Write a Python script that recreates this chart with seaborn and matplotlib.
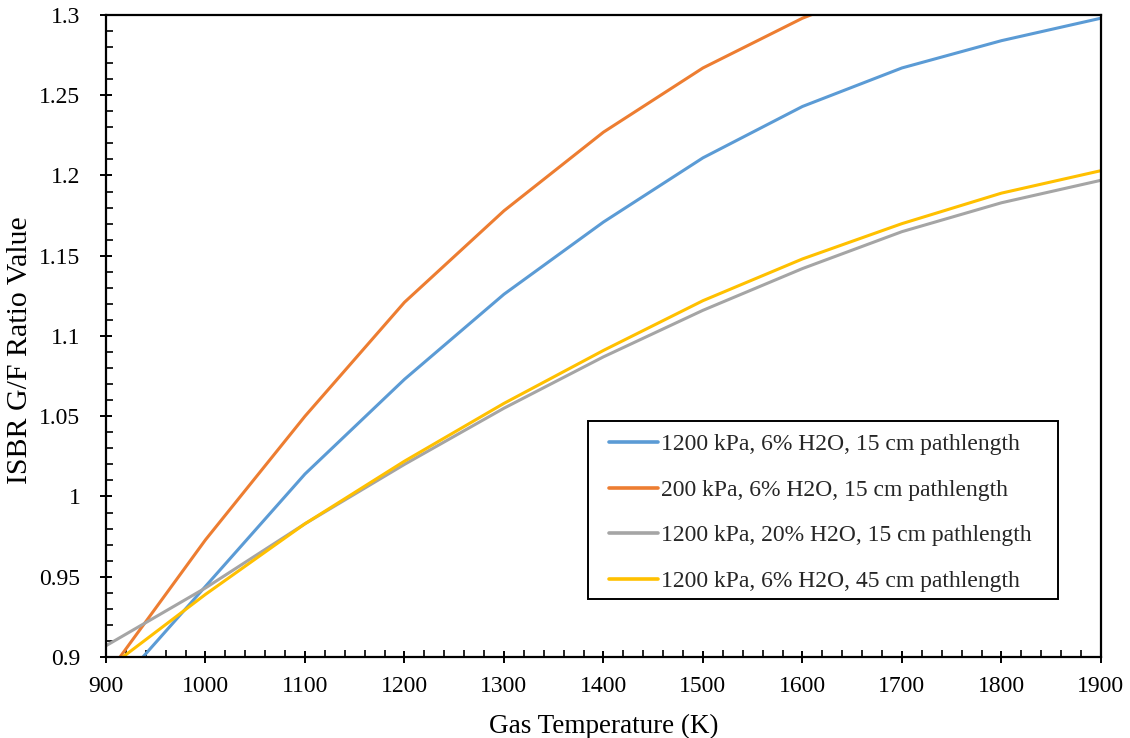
import numpy as np
import pandas as pd
import matplotlib
matplotlib.use("Agg")
import matplotlib.pyplot as plt
from matplotlib.patches import Rectangle
from matplotlib.ticker import MultipleLocator, FuncFormatter
import seaborn as sns

# Gas temperature grid (K)
temperature = [900, 1000, 1100, 1200, 1300, 1400, 1500, 1600, 1700, 1800, 1900]

# ISBR G/F ratio for each case
ratio_1200kpa_6pct_15cm = [0.874, 0.944, 1.014, 1.073, 1.126, 1.171, 1.211, 1.243, 1.267, 1.284, 1.298]
ratio_200kpa_6pct_15cm = [0.888, 0.973, 1.050, 1.121, 1.178, 1.227, 1.267, 1.298, 1.322, 1.340, 1.355]
ratio_1200kpa_20pct_15cm = [0.907, 0.943, 0.983, 1.020, 1.055, 1.087, 1.116, 1.142, 1.165, 1.183, 1.197]
ratio_1200kpa_6pct_45cm = [0.892, 0.939, 0.983, 1.022, 1.058, 1.091, 1.122, 1.148, 1.170, 1.189, 1.203]

case_labels = [
    "1200 kPa, 6% H2O, 15 cm pathlength",
    "200 kPa, 6% H2O, 15 cm pathlength",
    "1200 kPa, 20% H2O, 15 cm pathlength",
    "1200 kPa, 6% H2O, 45 cm pathlength",
]
case_colors = ["#5B9BD5", "#ED7D31", "#A5A5A5", "#FFC000"]

series = [ratio_1200kpa_6pct_15cm, ratio_200kpa_6pct_15cm,
          ratio_1200kpa_20pct_15cm, ratio_1200kpa_6pct_45cm]
df = pd.concat(
    [pd.DataFrame({"T": temperature, "ratio": vals, "case": lab})
     for lab, vals in zip(case_labels, series)],
    ignore_index=True,
)

sns.set_theme(style="white")
plt.rcParams["font.family"] = ["Liberation Serif", "DejaVu Serif"]
plt.rcParams["axes.unicode_minus"] = False

fig = plt.figure(figsize=(11.3, 7.38), dpi=100)
ax = fig.add_axes([0.0938, 0.1098, 0.8805, 0.8699])

sns.lineplot(data=df, x="T", y="ratio", hue="case", hue_order=case_labels,
             palette=case_colors, linewidth=2.2, ax=ax, legend=True)

ax.set_xlim(900, 1900)
ax.set_ylim(0.9, 1.3)
ax.xaxis.set_major_locator(MultipleLocator(100))
ax.xaxis.set_minor_locator(MultipleLocator(20))
ax.yaxis.set_major_locator(MultipleLocator(0.05))
ax.yaxis.set_minor_locator(MultipleLocator(0.01))
ax.yaxis.set_major_formatter(FuncFormatter(lambda v, p: f"{v:g}"))

for s in ax.spines.values():
    s.set_color("black")
    s.set_linewidth(1.6)

ax.tick_params(axis="both", which="major", direction="inout", length=9, width=1.4,
               colors="black", labelsize=17, bottom=True, left=True)
ax.tick_params(axis="both", which="minor", direction="in", length=5, width=1.2,
               colors="black", bottom=True, left=True)
ax.tick_params(axis="y", which="major", pad=14)
ax.tick_params(axis="x", which="major", pad=9)

ax.set_xlabel("Gas Temperature (K)", fontsize=19.5, color="black", labelpad=12)
ax.set_ylabel("ISBR G/F Ratio Value", fontsize=21.5, color="black", labelpad=4)
ax.yaxis.set_label_coords(-0.073, 0.478)

# legend entries without their own frame; a box with wider side margins is drawn below
leg = ax.legend(loc="upper left", bbox_to_anchor=(0.493, 0.368), fontsize=17,
                frameon=False, handlelength=2.05, handletextpad=0.15,
                labelspacing=1.02, borderpad=0.55, borderaxespad=0)
leg.set_zorder(6)
for h in leg.get_lines():
    h.set_linewidth(2.6)

fig.canvas.draw()
bb = leg.get_window_extent().transformed(ax.transAxes.inverted())
px_x = 1.0 / (0.8805 * 1130)
px_y = 1.0 / (0.8699 * 738)
box = Rectangle((bb.x0 - 9 * px_x, bb.y0 + 6 * px_y),
                bb.width + 22 * px_x, bb.height - 6 * px_y,
                transform=ax.transAxes, facecolor="white", edgecolor="black",
                linewidth=1.4, zorder=5)
ax.add_patch(box)

fig.savefig("out.png", dpi=100, facecolor="white")
